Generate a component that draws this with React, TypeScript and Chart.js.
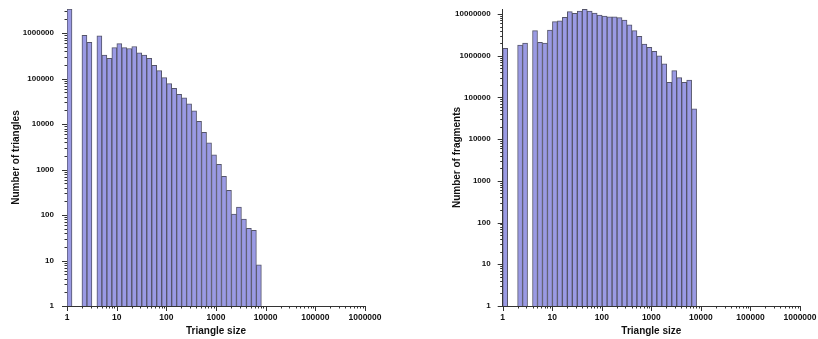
import React, { useEffect, useRef } from "react";
import { Chart, registerables } from "chart.js";

Chart.register(...registerables);

// Histogram bins: log-spaced, each bin spans a factor of 2^(1/3)
const BIN_FACTOR = Math.cbrt(2);
const binIndex = [
  0, 1, 2, 3, 4, 5, 6, 7, 8, 9, 10, 11, 12, 13, 14, 15, 16, 17, 18, 19,
  20, 21, 22, 23, 24, 25, 26, 27, 28, 29, 30, 31, 32, 33, 34, 35, 36, 37, 38,
];

// Left panel: number of triangles per bin
const triangleCounts = [
  3.4e6, null, null, 9.0e5, 6.3e5, null, 8.7e5, 3.3e5, 2.8e5, 4.8e5,
  5.9e5, 4.8e5, 4.6e5, 5.1e5, 3.7e5, 3.3e5, 2.8e5, 1.95e5, 1.5e5, 1.05e5,
  7.8e4, 6.1e4, 4.5e4, 3.8e4, 2.8e4, 1.95e4, 1.15e4, 6.6e3, 3.9e3, 2.1e3,
  1.3e3, 710, 350, 105, 150, 82, 51, 46, 8,
];

// Right panel: number of fragments per bin
const fragmentCounts = [
  1.5e6, null, null, 1.8e6, 2.0e6, null, 4.0e6, 2.1e6, 2.0e6, 4.1e6,
  6.6e6, 6.9e6, 8.3e6, 1.14e7, 1.04e7, 1.17e7, 1.3e7, 1.17e7, 1.06e7, 9.5e6,
  8.9e6, 8.6e6, 8.6e6, 8.2e6, 7.2e6, 5.5e6, 4.0e6, 2.9e6, 1.9e6, 1.6e6,
  1.27e6, 1.0e6, 6.4e5, 2.3e5, 4.4e5, 3.0e5, 2.3e5, 2.6e5, 5.3e4,
];

const X_MIN = 1;
const X_MAX = 1e6;
const X_TITLE = "Triangle size";

const FONT = "'Liberation Sans', Arial, Helvetica, sans-serif";

function isPow10(v: number) {
  const e = Math.log10(v);
  return Math.abs(e - Math.round(e)) < 1e-9;
}

const tickPlugin = {
  id: "logTicks",
  afterDraw(chart: any) {
    const ctx = chart.ctx;
    const xs = chart.scales.x;
    const ys = chart.scales.y;
    const { left, bottom } = chart.chartArea;
    ctx.save();
    ctx.strokeStyle = "#333";
    ctx.lineWidth = 1;
    ctx.beginPath();
    for (let d = 1; d <= xs.max; d *= 10) {
      for (let m = 1; m <= 9; m++) {
        const v = m * d;
        if (v > xs.max) break;
        const px = Math.round(xs.getPixelForValue(v)) + 0.5;
        const len = m === 1 ? 5 : 2.5;
        ctx.moveTo(px, bottom);
        ctx.lineTo(px, bottom + len);
      }
    }
    for (let d = 1; d <= ys.max; d *= 10) {
      for (let m = 1; m <= 9; m++) {
        const v = m * d;
        if (v > ys.max) break;
        const py = Math.round(ys.getPixelForValue(v)) + 0.5;
        const len = m === 1 ? 5 : 2.5;
        ctx.moveTo(left, py);
        ctx.lineTo(left - len, py);
      }
    }
    ctx.stroke();
    ctx.restore();
  },
};

type HistProps = {
  values: (number | null)[];
  yMax: number;
  yTitle: string;
  yWidth: number;
  padRight: number;
  yTitlePad: number;
  yLabelPad: number;
};

function Histogram({ values, yMax, yTitle, yWidth, padRight, yTitlePad, yLabelPad }: HistProps) {
  const ref = useRef<HTMLCanvasElement | null>(null);
  useEffect(() => {
    if (!ref.current) return;
    const data = binIndex.map((k, i) => ({
      x: Math.pow(BIN_FACTOR, k + 0.5),
      y: values[i],
    }));
    const chart = new Chart(ref.current, {
      type: "bar",
      data: {
        datasets: [
          {
            data: data as any,
            backgroundColor: "#9a9ae4",
            borderColor: "#55556a",
            borderWidth: 1,
            barThickness: "flex",
            barPercentage: 1,
            categoryPercentage: 1,
          },
        ],
      },
      options: {
        animation: false,
        responsive: false,
        maintainAspectRatio: false,
        layout: { padding: { left: 0, right: padRight, top: 9, bottom: 0 } },
        plugins: { legend: { display: false }, tooltip: { enabled: false } },
        scales: {
          x: {
            type: "logarithmic",
            min: X_MIN,
            max: X_MAX,
            grid: { display: false, drawTicks: false },
            border: { display: true, color: "#333", width: 1 },
            ticks: {
              autoSkip: false,
              maxRotation: 0,
              minRotation: 0,
              padding: 7,
              color: "#111",
              font: { family: FONT, size: 8.5, weight: "bold" },
              callback: (v: any) => (isPow10(Number(v)) ? String(Math.round(Number(v))) : ""),
            },
            title: {
              display: true,
              text: X_TITLE,
              color: "#111",
              font: { family: FONT, size: 10, weight: "bold" },
              padding: { top: 0, bottom: 2 },
            },
            afterFit: (s: any) => {
              s.height = 33;
              s.paddingLeft = 0;
              s.paddingRight = 0;
            },
          },
          y: {
            type: "logarithmic",
            min: 1,
            max: yMax,
            grid: { display: false, drawTicks: false },
            border: { display: true, color: "#333", width: 1 },
            ticks: {
              autoSkip: false,
              padding: yLabelPad,
              color: "#111",
              font: { family: FONT, size: 8, weight: "bold" },
              callback: (v: any) => (isPow10(Number(v)) ? String(Math.round(Number(v))) : ""),
            },
            title: {
              display: true,
              text: yTitle,
              color: "#111",
              font: { family: FONT, size: 10, weight: "bold" },
              padding: { top: yTitlePad, bottom: 0 },
            },
            afterFit: (s: any) => {
              s.width = yWidth;
              s.paddingTop = 0;
              s.paddingBottom = 0;
            },
          },
        },
      } as any,
      plugins: [tickPlugin],
    });
    return () => chart.destroy();
  }, [values, yMax, yTitle, yWidth, padRight, yTitlePad, yLabelPad]);
  return <canvas ref={ref} width={409} height={339} style={{ display: "block", width: 409, height: 339 }} />;
}

export default function App() {
  return (
    <div style={{ position: "absolute", left: 0, top: 0, width: 818, height: 339, background: "#fff", display: "flex" }}>
      <Histogram
        values={triangleCounts}
        yMax={3.4e6}
        yTitle="Number of triangles"
        yWidth={67}
        padRight={44}
        yTitlePad={10}
        yLabelPad={13}
      />
      <Histogram
        values={fragmentCounts}
        yMax={1.32e7}
        yTitle="Number of fragments"
        yWidth={93.7}
        padRight={18}
        yTitlePad={42}
        yLabelPad={12}
      />
    </div>
  );
}
